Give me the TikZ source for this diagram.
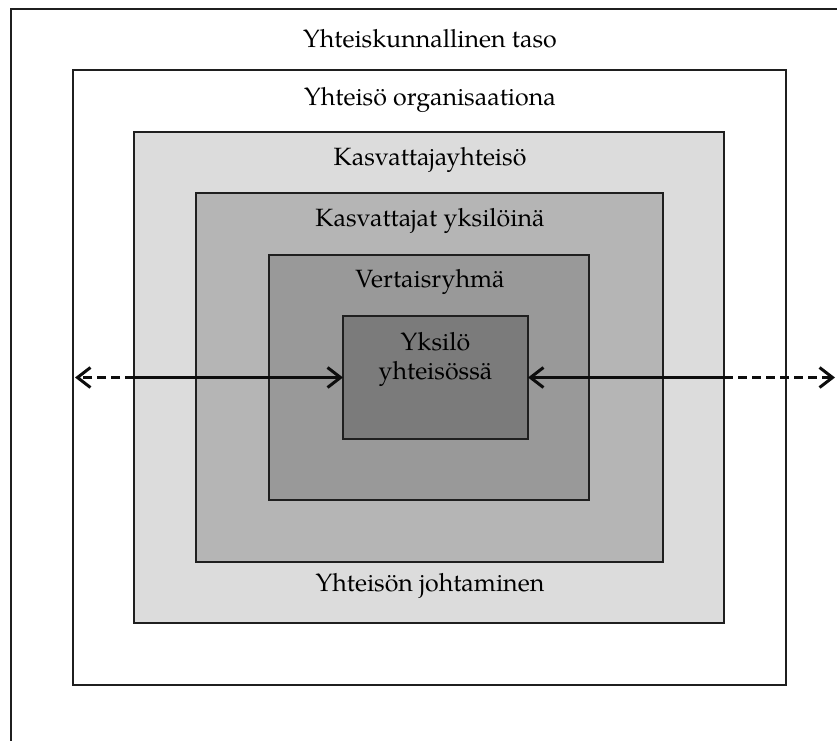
\documentclass[tikz,border=0pt]{standalone}
\usepackage{fontspec}
\setmainfont{TeX Gyre Pagella}
\usetikzlibrary{arrows.meta}
\definecolor{shadeA}{HTML}{DCDCDC}
\definecolor{shadeB}{HTML}{B5B5B5}
\definecolor{shadeC}{HTML}{999999}
\definecolor{shadeD}{HTML}{7B7B7B}
\begin{document}
\begin{tikzpicture}[x=1pt,y=-1pt,
  layer/.style={draw=black!88, line width=1.6pt, inner sep=0pt, outer sep=0pt},
  title/.style={font=\fontsize{25}{29}\selectfont, text=black, inner sep=0pt},
  link/.style={line width=2.5pt, draw=black!95},
  broken/.style={dash pattern=on 9pt off 5pt},
  tip/.style={-{Straight Barb[length=13pt,width=20pt,line width=3pt]}}
]
\useasboundingbox (0,0) rectangle (837,740);

% outermost level, running off the page on the right and at the bottom
\begin{scope}
  \clip (0,0) rectangle (837,740);
  \node[layer, fill=white, minimum width=860pt, minimum height=760pt,
        anchor=north west] (society) at (11,9) {};
\end{scope}

% nested levels
\node[layer, fill=white,  minimum width=713pt, minimum height=615pt] (org)  at (429.5,377.5) {};
\node[layer, fill=shadeA, minimum width=590pt, minimum height=491pt] (kasv) at (429,377.5) {};
\node[layer, fill=shadeB, minimum width=467pt, minimum height=369pt] (yks)  at (429.5,377.5) {};
\node[layer, fill=shadeC, minimum width=320pt, minimum height=245pt] (vert) at (429,377.5) {};
\node[layer, fill=shadeD, minimum width=185pt, minimum height=123pt] (ind)  at (435.5,377.5) {};

% level titles
\node[title] (tSoc)  at (430,39)  {Yhteiskunnallinen taso};
\node[title] (tOrg)  at (430,100) {Yhteisö organisaationa};
\node[title] (tKasv) at (430,160) {Kasvattajayhteisö};
\node[title] (tYks)  at (430,221) {Kasvattajat yksilöinä};
\node[title] (tVert) at (430,282) {Vertaisryhmä};
\node[title, align=center] (tInd) at (435.5,359) {Yksilö\\yhteisössä};
\node[title] (tLead) at (430,586) {Yhteisön johtaminen};

% interaction arrows
\coordinate (lend) at (75,377.5);
\coordinate (rend) at (835,377.5);
\draw[link, tip] (kasv.west) -- (ind.west);
\draw[link, broken, tip] (kasv.west) -- (lend);
\draw[link, tip] (kasv.east) -- (ind.east);
\draw[link, broken, tip] (kasv.east) -- (rend);
\end{tikzpicture}
\end{document}
